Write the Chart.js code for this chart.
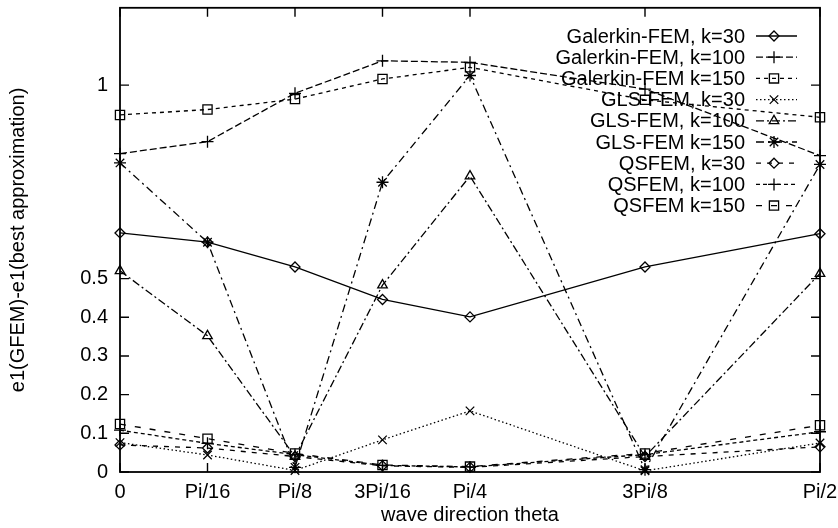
<!DOCTYPE html>
<html>
<head>
<meta charset="utf-8">
<script src="https://cdn.jsdelivr.net/npm/chart.js@4.4.1/dist/chart.umd.min.js"></script>
<style>
  html, body { margin: 0; padding: 0; background: #fff; }
  #wrap { width: 838px; height: 528px; position: relative; }
</style>
</head>
<body>
<div id="wrap"><canvas id="chart"></canvas></div>
<script>
// theta in multiples of Pi/16
const thetaSteps = [0, 1, 2, 3, 4, 6, 8];
const xTickValues = [0, 1, 2, 3, 4, 6, 8];
const xTickLabels = ["0", "Pi/16", "Pi/8", "3Pi/16", "Pi/4", "3Pi/8", "Pi/2"];
const yTickValues = [0, 0.1, 0.2, 0.3, 0.4, 0.5, 1];

const seriesLabels = [
  "Galerkin-FEM, k=30", "Galerkin-FEM, k=100", "Galerkin-FEM k=150",
  "GLS-FEM, k=30", "GLS-FEM, k=100", "GLS-FEM k=150",
  "QSFEM, k=30", "QSFEM, k=100", "QSFEM k=150"
];

const galerkin30  = [0.618, 0.594, 0.530, 0.446, 0.401, 0.530, 0.616];
const galerkin100 = [0.823, 0.854, 0.979, 1.063, 1.059, 0.990, 0.818];
const galerkin150 = [0.923, 0.937, 0.964, 1.016, 1.046, 0.962, 0.917];
const gls30  = [0.076, 0.044, 0.004, 0.083, 0.158, 0.003, 0.075];
const gls100 = [0.520, 0.352, 0.040, 0.483, 0.765, 0.040, 0.513];
const gls150 = [0.799, 0.594, 0.012, 0.749, 1.025, 0.006, 0.795];
const qsfem30  = [0.070, 0.062, 0.040, 0.016, 0.012, 0.040, 0.065];
const qsfem100 = [0.108, 0.074, 0.045, 0.017, 0.013, 0.045, 0.104];
const qsfem150 = [0.124, 0.086, 0.048, 0.018, 0.014, 0.048, 0.121];

const seriesValues = [galerkin30, galerkin100, galerkin150, gls30, gls100, gls150, qsfem30, qsfem100, qsfem150];

// gnuplot-like line types
const lineStyles = [
  { dash: [], point: "rectRot", r: 5 },
  { dash: [7, 3], point: "cross", r: 6 },
  { dash: [4, 4], point: "rect", r: 6.5 },
  { dash: [1.5, 2.5], point: "crossRot", r: 6 },
  { dash: [8, 3, 2, 3], point: "triangle", r: 5.5 },
  { dash: [8, 4, 2, 4], point: "star", r: 6 },
  { dash: [5, 6], point: "rectRot", r: 5 },
  { dash: [4, 3], point: "cross", r: 6 },
  { dash: [6, 9], point: "rect", r: 6.5 }
];

Chart.defaults.font.family = "'Liberation Sans', Arial, Helvetica, sans-serif";
Chart.defaults.font.size = 20;
Chart.defaults.color = "#000";

const datasets = seriesLabels.map((label, i) => ({
  label: label,
  data: thetaSteps.map((t, j) => ({ x: t, y: seriesValues[i][j] })),
  borderColor: "#000",
  borderWidth: 1.3,
  borderDash: lineStyles[i].dash,
  pointStyle: lineStyles[i].point,
  pointRadius: lineStyles[i].r,
  pointBorderColor: "#000",
  pointBackgroundColor: "rgba(0,0,0,0)",
  pointBorderWidth: 1.3,
  tension: 0,
  fill: false,
  clip: false
}));

const frameTicks = {
  id: "frameTicks",
  afterDraw(chart) {
    const ctx = chart.ctx;
    const a = chart.chartArea;
    const xs = chart.scales.x;
    const ys = chart.scales.y;
    const len = 9;
    ctx.save();
    ctx.strokeStyle = "#000";
    ctx.lineWidth = 1.8;
    ctx.setLineDash([]);
    ctx.strokeRect(a.left, a.top, a.right - a.left, a.bottom - a.top);
    ctx.lineWidth = 1.4;
    ctx.beginPath();
    xTickValues.forEach(v => {
      const px = xs.getPixelForValue(v);
      ctx.moveTo(px, a.bottom); ctx.lineTo(px, a.bottom - len);
      ctx.moveTo(px, a.top); ctx.lineTo(px, a.top + len);
    });
    yTickValues.forEach(v => {
      const py = ys.getPixelForValue(v);
      ctx.moveTo(a.left, py); ctx.lineTo(a.left + len, py);
      ctx.moveTo(a.right, py); ctx.lineTo(a.right - len, py);
    });
    ctx.stroke();
    ctx.restore();
  }
};

const keyBox = {
  id: "keyBox",
  afterDraw(chart) {
    const ctx = chart.ctx;
    const textRight = 745;
    const lineFrom = 756, lineTo = 797, markX = 774;
    const top = 36, step = 21.2;
    ctx.save();
    ctx.font = "20px 'Liberation Sans', Arial, sans-serif";
    ctx.textAlign = "right";
    ctx.textBaseline = "middle";
    ctx.strokeStyle = "#000";
    chart.data.datasets.forEach((ds, i) => {
      const y = top + i * step;
      ctx.fillStyle = "#000";
      ctx.fillText(ds.label, textRight, y + 1);
      ctx.lineWidth = 1.3;
      ctx.setLineDash(ds.borderDash);
      ctx.beginPath();
      ctx.moveTo(lineFrom, y);
      ctx.lineTo(lineTo, y);
      ctx.stroke();
      ctx.setLineDash([]);
      ctx.fillStyle = "rgba(0,0,0,0)";
      Chart.helpers.drawPoint(ctx, {
        pointStyle: ds.pointStyle, radius: ds.pointRadius, rotation: 0, borderWidth: 1.3
      }, markX, y);
    });
    ctx.restore();
  }
};

new Chart(document.getElementById("chart"), {
  type: "line",
  data: { datasets: datasets },
  options: {
    responsive: true,
    maintainAspectRatio: false,
    animation: false,
    events: [],
    layout: { padding: { top: 6, right: 18, left: 0, bottom: 0 } },
    plugins: { legend: { display: false }, tooltip: { enabled: false } },
    scales: {
      x: {
        type: "linear",
        min: 0,
        max: 8,
        grid: { display: false, drawTicks: false },
        border: { display: false },
        afterBuildTicks: scale => { scale.ticks = xTickValues.map(v => ({ value: v })); },
        afterFit: scale => {
          scale.height = 56;
          scale.paddingLeft = 0;
          scale.paddingRight = 0;
        },
        ticks: {
          padding: 8,
          autoSkip: false,
          maxRotation: 0,
          callback: v => xTickLabels[xTickValues.indexOf(v)]
        },
        title: { display: true, text: "wave direction theta", padding: { top: 0, bottom: 1 } }
      },
      y: {
        type: "linear",
        min: 0,
        max: 1.2,
        grid: { display: false, drawTicks: false },
        border: { display: false },
        afterBuildTicks: scale => { scale.ticks = yTickValues.map(v => ({ value: v })); },
        afterFit: scale => {
          scale.width = 120;
          scale.paddingTop = 0;
          scale.paddingBottom = 0;
        },
        ticks: { padding: 12, callback: v => String(v) },
        title: { display: true, text: "e1(GFEM)-e1(best approximation)", padding: { top: 6, bottom: 0 } }
      }
    }
  },
  plugins: [frameTicks, keyBox]
});
</script>
</body>
</html>
